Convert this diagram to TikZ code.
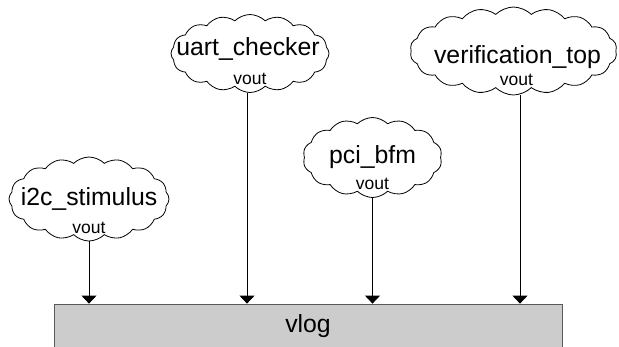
\documentclass[tikz,border=0pt]{standalone}
\usepackage{fontspec}
\setmainfont{Liberation Sans}
\usetikzlibrary{shapes.symbols,arrows.meta}

\begin{document}
\begin{tikzpicture}[x=1pt,y=-1pt,
    modcloud/.style={cloud, draw, line width=0.8pt, cloud puffs=16, cloud puff arc=90,
      cloud ignores aspect, inner sep=0pt},
    modname/.style={anchor=base, inner sep=0pt, font=\fontsize{24.8}{28}\selectfont},
    portlbl/.style={anchor=base, inner sep=0pt, font=\fontsize{17.5}{20}\selectfont},
    conn/.style={line width=0.8pt, -{Triangle[width=15pt,length=8pt]}},
    bus/.style={draw=black!65, fill=black!20, line width=0.8pt, minimum width=508pt,
      minimum height=44pt, font=\fontsize{24.8}{28}\selectfont}]
    \useasboundingbox (0,0) rectangle (619,346);
    % バス
    \node[bus] (vlog) at (308,326) {vlog};
    % モジュール
    \node[modcloud, minimum width=160pt, minimum height=84pt] (i2c) at (89,199) {};
    \node[modcloud, minimum width=158pt, minimum height=78pt] (uart) at (250,53.5) {};
    \node[modcloud, minimum width=139pt, minimum height=80pt, cloud puffs=14] (pci) at (372.5,157.5) {};
    \node[modcloud, minimum width=207pt, minimum height=88pt, cloud puffs=18] (verif) at (513.5,51) {};
    \node[modname] (i2cname) at ([yshift=-6pt]i2c.center) {i2c\_stimulus};
    \node[modname] (uartname) at ([xshift=-2pt,yshift=-1.5pt]uart.center) {uart\_checker};
    \node[modname] (pciname) at ([yshift=-5.5pt]pci.center) {pci\_bfm};
    \node[modname] (verifname) at ([xshift=4pt,yshift=-12pt]verif.center) {verification\_top};
    % ポート
    \node[portlbl] (i2cout) at ([yshift=8pt]i2c.south) {vout};
    \node[portlbl] (uartout) at ([yshift=8.5pt]uart.south) {vout};
    \node[portlbl] (pciout) at ([yshift=8pt]pci.south) {vout};
    \node[portlbl] (verifout) at ([xshift=3pt,yshift=10pt]verif.south) {vout};
    % 接続
    \draw[conn] (i2c.south) -- (i2c.south |- vlog.north);
    \draw[conn] ([xshift=-3pt]uart.south) -- ([xshift=-3pt]uart.south |- vlog.north);
    \draw[conn] (pci.south) -- (pci.south |- vlog.north);
    \draw[conn] ([xshift=6.5pt]verif.south) -- ([xshift=6.5pt]verif.south |- vlog.north);
\end{tikzpicture}
\end{document}
